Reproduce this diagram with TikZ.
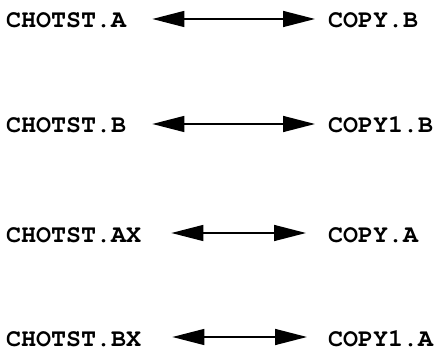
\documentclass[tikz,border=0pt]{standalone}
\usepackage[T1]{fontenc}
\usepackage{courier}
\usetikzlibrary{arrows.meta}
\begin{document}
\begin{tikzpicture}[x=1pt, y=-1pt, >={Triangle[length=32pt,width=16pt]},
    fname/.style={font=\fontsize{25}{25}\selectfont\ttfamily\bfseries, inner sep=0pt, anchor=base west}]
\useasboundingbox (0,0) rectangle (438,352);
% file pairs: original on the left, copy on the right
\foreach \n/\src/\cpy/\y/\s/\e in {1/CHOTST.A/COPY.B/28/26/13,
                                   2/CHOTST.B/COPY1.B/133/26/13,
                                   3/CHOTST.AX/COPY.A/242/30/22,
                                   4/CHOTST.BX/COPY1.A/346/31/21}
{
    \node[fname] (src\n) at (6,\y) {\src};
    \node[fname] (cpy\n) at (328,\y) {\cpy};
    \draw[<->, line width=1.5pt]([shift={(\s,-9)}]src\n.base east)--([shift={(-\e,-9)}]cpy\n.base west);
}
\end{tikzpicture}
\end{document}
